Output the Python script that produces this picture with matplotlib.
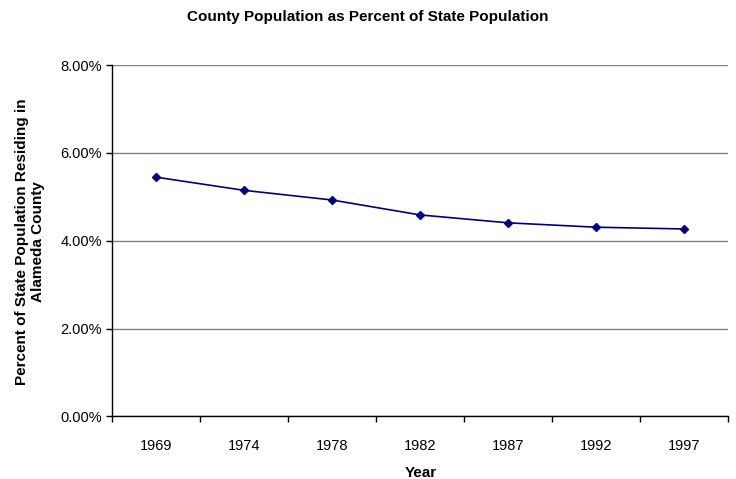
import matplotlib.pyplot as plt
from matplotlib.ticker import FuncFormatter, FixedLocator

years = ["1969", "1974", "1978", "1982", "1987", "1992", "1997"]
share = [5.45, 5.15, 4.93, 4.59, 4.41, 4.31, 4.27]

plt.rcParams["font.family"] = ["Liberation Sans", "DejaVu Sans"]

fig = plt.figure(figsize=(7.36, 4.79), dpi=100)
ax = fig.add_axes([0.152, 0.1305, 0.837, 0.7335])

x = list(range(len(years)))
ax.plot(x, share, color="#000080", lw=1.2, marker="D", ms=4.5, zorder=3)

ax.set_xlim(-0.5, len(years) - 0.5)
ax.set_ylim(0, 8)
ax.set_yticks([0, 2, 4, 6, 8])
ax.yaxis.set_major_formatter(FuncFormatter(lambda v, p: f"{v:.2f}%"))
ax.set_xticks(x)
ax.set_xticklabels(years)
ax.xaxis.set_minor_locator(FixedLocator([i - 0.5 for i in range(len(years) + 1)]))
ax.tick_params(axis="x", which="major", length=0, pad=16, labelsize=10.5)
ax.tick_params(axis="x", which="minor", length=4, width=1, direction="out")
ax.tick_params(axis="y", length=4, width=1, direction="out", labelsize=10.5, pad=3)

ax.grid(axis="y", color="#808080", lw=1)
ax.set_axisbelow(True)
for s in ["top", "right"]:
    ax.spines[s].set_visible(False)
ax.spines["left"].set_linewidth(1)
ax.spines["bottom"].set_linewidth(1)

fig.text(0.5, 1 - 17 / 479, "County Population as Percent of State Population",
         fontsize=11, fontweight="bold", ha="center", va="center")
fig.text(421 / 736, 1 - 473 / 479, "Year", fontsize=11, fontweight="bold",
         ha="center", va="center")
fig.text(30 / 736, 1 - 242 / 479,
         "Percent of State Population Residing in\nAlameda County",
         fontsize=11, fontweight="bold", ha="center", va="center",
         rotation=90, linespacing=1.2)

fig.savefig("out.png", dpi=100)
